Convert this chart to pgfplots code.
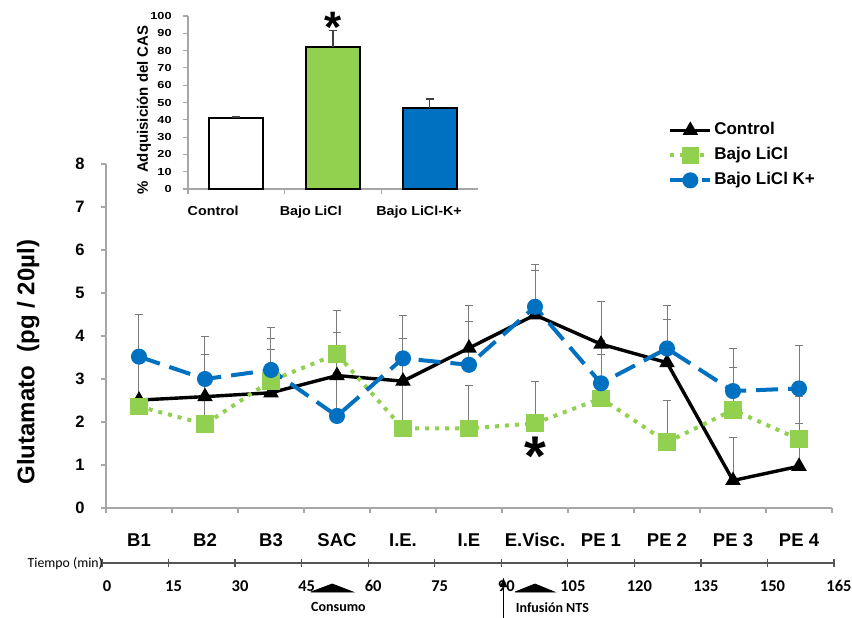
\documentclass[border=0pt]{standalone}
\usepackage{pgfplots}
\pgfplotsset{compat=1.18}
\usepackage{pgfplotstable}
\usepackage{graphicx}
\usepackage{fontspec}
\setmainfont{Liberation Sans}
\newfontfamily\carlito{Carlito}
\usetikzlibrary{arrows.meta}
\definecolor{lgreen}{HTML}{92D050}
\definecolor{mblue}{HTML}{0070C0}
\definecolor{axgray}{HTML}{A6A6A6}
\definecolor{errgray}{HTML}{7A7A7A}
\definecolor{timegray}{HTML}{555555}

\pgfplotstableread{
x c ce g ge b be
0 2.51 1.00 2.36 0.99 3.52 0.99
1 2.59 0.98 1.95 1.00 3.00 1.00
2 2.68 1.01 2.96 0.99 3.21 0.99
3 3.08 1.01 3.58 1.01 2.14 1.00
4 2.95 1.00 1.85 1.00 3.48 0.99
5 3.72 0.98 1.85 0.99 3.33 1.00
6 4.49 1.03 1.97 0.98 4.68 0.99
7 3.81 1.00 2.55 1.01 2.90 1.00
8 3.38 1.01 1.53 0.98 3.71 0.99
9 0.64 0.99 2.28 0.99 2.72 0.99
10 0.97 1.00 1.60 0.99 2.78 0.99
}\glut

\begin{document}
\begin{tikzpicture}
\useasboundingbox (-53pt,-54.5pt) rectangle (373pt,254pt);

% ---------- main axis ----------
\begin{axis}[
  at={(0pt,0pt)}, anchor=south west,
  scale only axis, width=363pt, height=172pt,
  xmin=-0.5, xmax=10.5, ymin=0, ymax=8,
  axis lines*=left,
  axis line style={axgray, line width=0.6pt, -},
  xtick={-0.5,0.5,...,10.5},
  xticklabels={},
  extra x ticks={0,...,10},
  extra x tick labels={B1,B2,B3,SAC,I.E.,I.E,E.Visc.,PE 1,PE 2,PE 3,PE 4},
  extra x tick style={major tick length=0pt},
  ytick={0,...,8},
  major tick length=2.5pt,
  tick align=outside,
  xtick style={draw=axgray, line width=0.6pt},
  ytick style={draw=axgray, line width=0.6pt},
  /pgf/number format/assume math mode=true,
  xticklabel style={font=\fontsize{9.25}{10}\selectfont\bfseries, anchor=base, inner sep=0pt, yshift=-19pt},
  yticklabel style={font=\fontsize{8.25}{9}\selectfont\bfseries, anchor=east, inner sep=0pt, xshift=-8pt},
  every axis y label/.style={at={(axis description cs:-0.107,0.424)}, rotate=90, anchor=center, font=\fontsize{12}{13}\selectfont\bfseries},
  ylabel={Glutamato\ \ (pg / 20µl)},
  clip=false,
  legend style={at={(0.774,1.128)}, anchor=north west, draw=none, fill=none,
    font=\fontsize{8.5}{9}\selectfont\bfseries, inner sep=0pt,
    nodes={inner sep=1pt, text height=6.2pt, text depth=1.8pt}, row sep=2.5pt},
  legend cell align=left,
  legend image code/.code={\draw[mark repeat=2,mark phase=2,#1] plot coordinates {(0pt,0pt) (10pt,0pt) (20pt,0pt)};},
]
\addplot[black, line width=1.7pt, mark=triangle*, mark size=2.8pt, mark options={solid},
  error bars/.cd, y dir=plus, y explicit,
  error bar style={errgray, line width=0.5pt, solid},
  error mark options={errgray, line width=0.5pt, mark size=2pt, rotate=90}]
  table[x=x, y=c, y error=ce] {\glut};
\addlegendentry{Control}
\addplot[lgreen, line width=2pt, dash pattern=on 2pt off 3pt, mark=square*, mark size=3.4pt, mark options={solid},
  error bars/.cd, y dir=plus, y explicit,
  error bar style={errgray, line width=0.5pt, solid},
  error mark options={errgray, line width=0.5pt, mark size=2pt, rotate=90}]
  table[x=x, y=g, y error=ge] {\glut};
\addlegendentry{Bajo LiCl}
\addplot[mblue, line width=2pt, dash pattern=on 11pt off 5pt, mark=*, mark size=3pt, mark options={solid},
  error bars/.cd, y dir=plus, y explicit,
  error bar style={errgray, line width=0.5pt, solid},
  error mark options={errgray, line width=0.5pt, mark size=2pt, rotate=90}]
  table[x=x, y=b, y error=be] {\glut};
\addlegendentry{Bajo LiCl K+}
\node[font=\fontsize{28}{28}\selectfont\bfseries, anchor=base] at (axis cs:6,0.76) {*};
\end{axis}

% ---------- inset bar chart ----------
\begin{axis}[
  at={(41pt,159.5pt)}, anchor=south west,
  scale only axis, width=145pt, height=86.5pt,
  xmin=-0.5, xmax=2.5, ymin=0, ymax=100,
  axis lines*=left,
  axis line style={axgray, line width=0.6pt, -},
  xtick={-0.5,0.5,1.5},
  xticklabels={},
  extra x ticks={-0.24,0.77,1.89},
  extra x tick labels={\scalebox{1.1}[1]{Control},\scalebox{1.1}[1]{Bajo LiCl},\scalebox{1.1}[1]{Bajo LiCl-K+}},
  extra x tick style={major tick length=0pt},
  ytick={0,10,...,100},
  major tick length=2.5pt,
  tick align=outside,
  xtick style={draw=axgray, line width=0.6pt},
  ytick style={draw=axgray, line width=0.6pt},
  /pgf/number format/assume math mode=true,
  yticklabel={\scalebox{1.25}[1]{\pgfmathprintnumber{\tick}}},
  xticklabel style={font=\fontsize{6.5}{7}\selectfont\bfseries, anchor=base, inner sep=0pt, yshift=-13.25pt},
  yticklabel style={font=\fontsize{5.1}{6}\selectfont\bfseries, anchor=east, inner sep=0pt, xshift=-5.5pt},
  every axis y label/.style={at={(axis description cs:-0.152,0.457)}, rotate=90, anchor=center, font=\fontsize{7.5}{8}\selectfont\bfseries},
  ylabel={\%\ \ Adquisición del CAS},
  clip=false,
]
\addplot[ybar, bar width=27pt, bar shift=0pt, fill=white, draw=black, line width=0.9pt,
  error bars/.cd, y dir=plus, y explicit,
  error bar style={black!75, line width=0.6pt},
  error mark options={black!75, line width=0.6pt, mark size=2pt, rotate=90}]
  coordinates {(0,41) +- (0,0.6)};
\addplot[ybar, bar width=27pt, bar shift=0pt, fill=lgreen, draw=black, line width=0.9pt,
  error bars/.cd, y dir=plus, y explicit,
  error bar style={black!75, line width=0.6pt},
  error mark options={black!75, line width=0.6pt, mark size=2pt, rotate=90}]
  coordinates {(1,82) +- (0,9.5)};
\addplot[ybar, bar width=27pt, bar shift=0pt, fill=mblue, draw=black, line width=0.9pt,
  error bars/.cd, y dir=plus, y explicit,
  error bar style={black!75, line width=0.6pt},
  error mark options={black!75, line width=0.6pt, mark size=2pt, rotate=90}]
  coordinates {(2,47) +- (0,5)};
\node[font=\fontsize{22}{22}\selectfont\bfseries, anchor=base] at (axis cs:1,84.5) {*};
\end{axis}

% ---------- time axis ----------
\begin{axis}[
  at={(-2pt,-27.5pt)}, anchor=south west,
  scale only axis, width=366pt, height=10pt,
  xmin=0, xmax=165, ymin=0, ymax=10,
  axis x line=bottom, hide y axis,
  axis line style={timegray, line width=0.6pt, -},
  xtick={0,15,...,165},
  major tick length=4pt,
  tick align=center,
  xtick style={draw=timegray, line width=0.6pt},
  /pgf/number format/assume math mode=true,
  xticklabel style={font=\carlito\fontsize{8.25}{9}\selectfont\bfseries, anchor=base, inner sep=0pt, yshift=-12.1pt, xshift=2.5pt},
  clip=false,
]
\addplot[fill=black, draw=black] coordinates {(47.1,-14.5) (51.9,-10.5) (56.6,-14.5) (47.1,-14.5)};
\addplot[fill=black, draw=black] coordinates {(93.1,-14.5) (97.6,-10.5) (102,-14.5) (93.1,-14.5)};
\draw[-{Latex[length=5pt,width=4pt]}, line width=0.9pt] (axis cs:90.5,-27.5) -- (axis cs:90.5,-7);
\node[anchor=east, inner sep=0pt, font=\carlito\fontsize{6.9}{7.5}\selectfont] at (axis cs:0.3,-0.5) {Tiempo (min)};
\node[font=\carlito\fontsize{7}{8}\selectfont\bfseries] at (axis cs:53.3,-22) {Consumo};
\node[anchor=west, inner sep=0pt, font=\carlito\fontsize{7}{8}\selectfont\bfseries] at (axis cs:93.2,-22.5) {Infusión NTS};
\end{axis}
\end{tikzpicture}
\end{document}
